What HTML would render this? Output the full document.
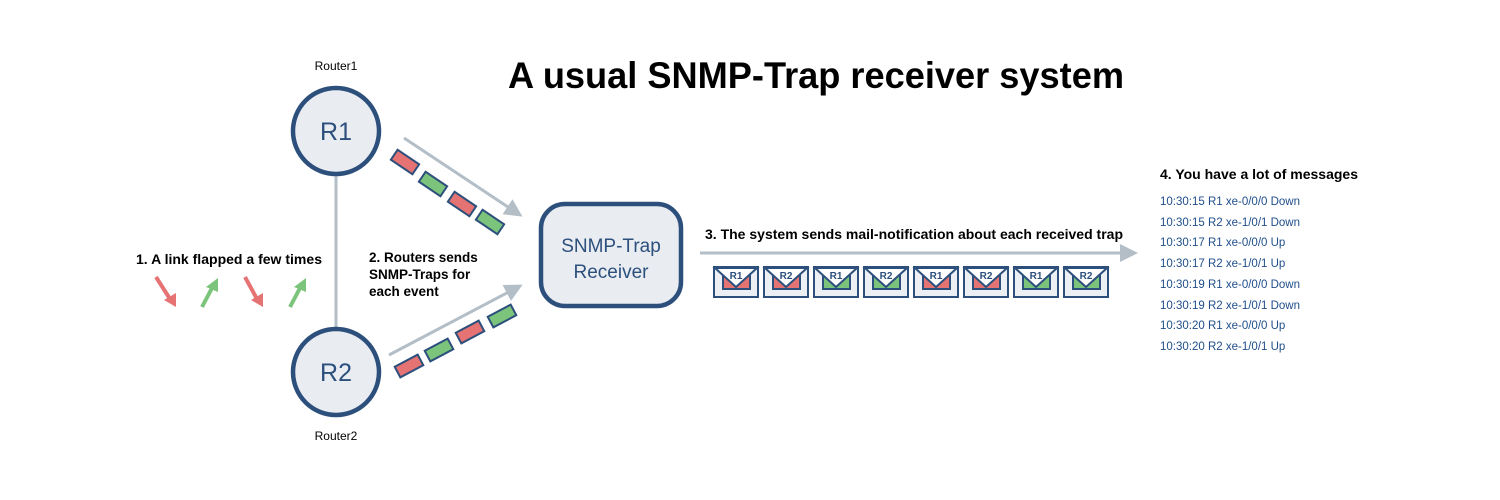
<!DOCTYPE html>
<html><head><style>
html,body{margin:0;padding:0;background:#fff;}
svg{display:block;font-family:"Liberation Sans",Arial,sans-serif;}
</style></head><body>
<svg width="1500" height="500" viewBox="0 0 1500 500" xmlns="http://www.w3.org/2000/svg">
<defs>
<marker id="ah" markerWidth="6" markerHeight="6" refX="5" refY="3" orient="auto" markerUnits="strokeWidth">
<path d="M0,0 L6,3 L0,6 z" fill="#b3bec7"/></marker>
</defs>
<text x="508" y="88" font-size="37" font-weight="bold" fill="#000" textLength="616" lengthAdjust="spacingAndGlyphs">A usual SNMP-Trap receiver system</text>
<text x="336" y="70" text-anchor="middle" font-size="12" fill="#000">Router1</text>
<text x="336" y="440" text-anchor="middle" font-size="12" fill="#000">Router2</text>
<line x1="336" y1="175" x2="336" y2="328" stroke="#b3bec7" stroke-width="3"/>
<circle cx="336" cy="131" r="43" fill="#e9edf2" stroke="#2c4f7c" stroke-width="4.5"/>
<circle cx="336" cy="372" r="43" fill="#e9edf2" stroke="#2c4f7c" stroke-width="4.5"/>
<text x="336" y="140" text-anchor="middle" font-size="25" fill="#2c4f7c">R1</text>
<text x="336" y="381" text-anchor="middle" font-size="25" fill="#2c4f7c">R2</text>
<rect x="541" y="204" width="140" height="102" rx="24" fill="#e9edf2" stroke="#2c4f7c" stroke-width="4.5"/>
<text x="611" y="252" text-anchor="middle" font-size="19" fill="#2c4f7c">SNMP-Trap</text>
<text x="611" y="278" text-anchor="middle" font-size="19" fill="#2c4f7c">Receiver</text>
<line x1="404" y1="138" x2="520" y2="215" stroke="#b3bec7" stroke-width="3" marker-end="url(#ah)"/>
<line x1="389" y1="355" x2="520" y2="286" stroke="#b3bec7" stroke-width="3" marker-end="url(#ah)"/>
<g stroke="#2c4f7c" stroke-width="2">
<rect x="-13" y="-6" width="26" height="12" fill="#e57373" transform="translate(405,162) rotate(34)"/>
<rect x="-13" y="-6" width="26" height="12" fill="#7cc47c" transform="translate(433,184) rotate(34)"/>
<rect x="-13" y="-6" width="26" height="12" fill="#e57373" transform="translate(462,204) rotate(34)"/>
<rect x="-13" y="-6" width="26" height="12" fill="#7cc47c" transform="translate(490,222) rotate(34)"/>
<rect x="-13" y="-6" width="26" height="12" fill="#e57373" transform="translate(409,366) rotate(-28)"/>
<rect x="-13" y="-6" width="26" height="12" fill="#7cc47c" transform="translate(439,350) rotate(-28)"/>
<rect x="-13" y="-6" width="26" height="12" fill="#e57373" transform="translate(470,332) rotate(-28)"/>
<rect x="-13" y="-6" width="26" height="12" fill="#7cc47c" transform="translate(502,316) rotate(-28)"/>
</g>
<g font-size="13.5" font-weight="bold" fill="#000">
<text x="369" y="262">2. Routers sends</text>
<text x="369" y="279">SNMP-Traps for</text>
<text x="369" y="296">each event</text>
<text x="136" y="264" textLength="186" lengthAdjust="spacingAndGlyphs">1. A link flapped a few times</text>
<text x="705" y="239" textLength="418" lengthAdjust="spacingAndGlyphs">3. The system sends mail-notification about each received trap</text>
<text x="1160" y="179" textLength="198" lengthAdjust="spacingAndGlyphs">4. You have a lot of messages</text>
</g>
<g stroke-width="4">
<line x1="156" y1="277" x2="170" y2="299" stroke="#e57373"/>
<path d="M164,300 L176,307 L176,293 z" fill="#e57373"/>
<line x1="202" y1="307" x2="212" y2="288" stroke="#7cc47c"/>
<path d="M206,287 L218,278 L218,292 z" fill="#7cc47c"/>
<line x1="245" y1="277" x2="257" y2="299" stroke="#e57373"/>
<path d="M251,300 L263,307 L263,293 z" fill="#e57373"/>
<line x1="290" y1="307" x2="300" y2="288" stroke="#7cc47c"/>
<path d="M294,287 L306,278 L306,292 z" fill="#7cc47c"/>
</g>
<line x1="700" y1="253" x2="1135" y2="253" stroke="#b3bec7" stroke-width="3" marker-end="url(#ah)"/>
<g stroke="#2c4f7c" stroke-width="2" font-size="10" font-weight="bold" text-anchor="middle">
<g transform="translate(714,267)"><rect width="44" height="30" fill="#eceff3"/><rect x="9" y="6" width="27" height="16" fill="#e57373"/><path d="M1,1 L22,20 L43,1 z" fill="#fff"/><text x="22" y="12" fill="#2c4f7c" stroke="none">R1</text></g>
<g transform="translate(764,267)"><rect width="44" height="30" fill="#eceff3"/><rect x="9" y="6" width="27" height="16" fill="#e57373"/><path d="M1,1 L22,20 L43,1 z" fill="#fff"/><text x="22" y="12" fill="#2c4f7c" stroke="none">R2</text></g>
<g transform="translate(814,267)"><rect width="44" height="30" fill="#eceff3"/><rect x="9" y="6" width="27" height="16" fill="#7cc47c"/><path d="M1,1 L22,20 L43,1 z" fill="#fff"/><text x="22" y="12" fill="#2c4f7c" stroke="none">R1</text></g>
<g transform="translate(864,267)"><rect width="44" height="30" fill="#eceff3"/><rect x="9" y="6" width="27" height="16" fill="#7cc47c"/><path d="M1,1 L22,20 L43,1 z" fill="#fff"/><text x="22" y="12" fill="#2c4f7c" stroke="none">R2</text></g>
<g transform="translate(914,267)"><rect width="44" height="30" fill="#eceff3"/><rect x="9" y="6" width="27" height="16" fill="#e57373"/><path d="M1,1 L22,20 L43,1 z" fill="#fff"/><text x="22" y="12" fill="#2c4f7c" stroke="none">R1</text></g>
<g transform="translate(964,267)"><rect width="44" height="30" fill="#eceff3"/><rect x="9" y="6" width="27" height="16" fill="#e57373"/><path d="M1,1 L22,20 L43,1 z" fill="#fff"/><text x="22" y="12" fill="#2c4f7c" stroke="none">R2</text></g>
<g transform="translate(1014,267)"><rect width="44" height="30" fill="#eceff3"/><rect x="9" y="6" width="27" height="16" fill="#7cc47c"/><path d="M1,1 L22,20 L43,1 z" fill="#fff"/><text x="22" y="12" fill="#2c4f7c" stroke="none">R1</text></g>
<g transform="translate(1064,267)"><rect width="44" height="30" fill="#eceff3"/><rect x="9" y="6" width="27" height="16" fill="#7cc47c"/><path d="M1,1 L22,20 L43,1 z" fill="#fff"/><text x="22" y="12" fill="#2c4f7c" stroke="none">R2</text></g>
</g>
<g font-size="11.5" fill="#1f4e8a">
<text x="1160" y="205">10:30:15 R1 xe-0/0/0 Down</text>
<text x="1160" y="226">10:30:15 R2 xe-1/0/1 Down</text>
<text x="1160" y="246">10:30:17 R1 xe-0/0/0 Up</text>
<text x="1160" y="267">10:30:17 R2 xe-1/0/1 Up</text>
<text x="1160" y="288">10:30:19 R1 xe-0/0/0 Down</text>
<text x="1160" y="309">10:30:19 R2 xe-1/0/1 Down</text>
<text x="1160" y="329">10:30:20 R1 xe-0/0/0 Up</text>
<text x="1160" y="350">10:30:20 R2 xe-1/0/1 Up</text>
</g>
</svg>
</body></html>
